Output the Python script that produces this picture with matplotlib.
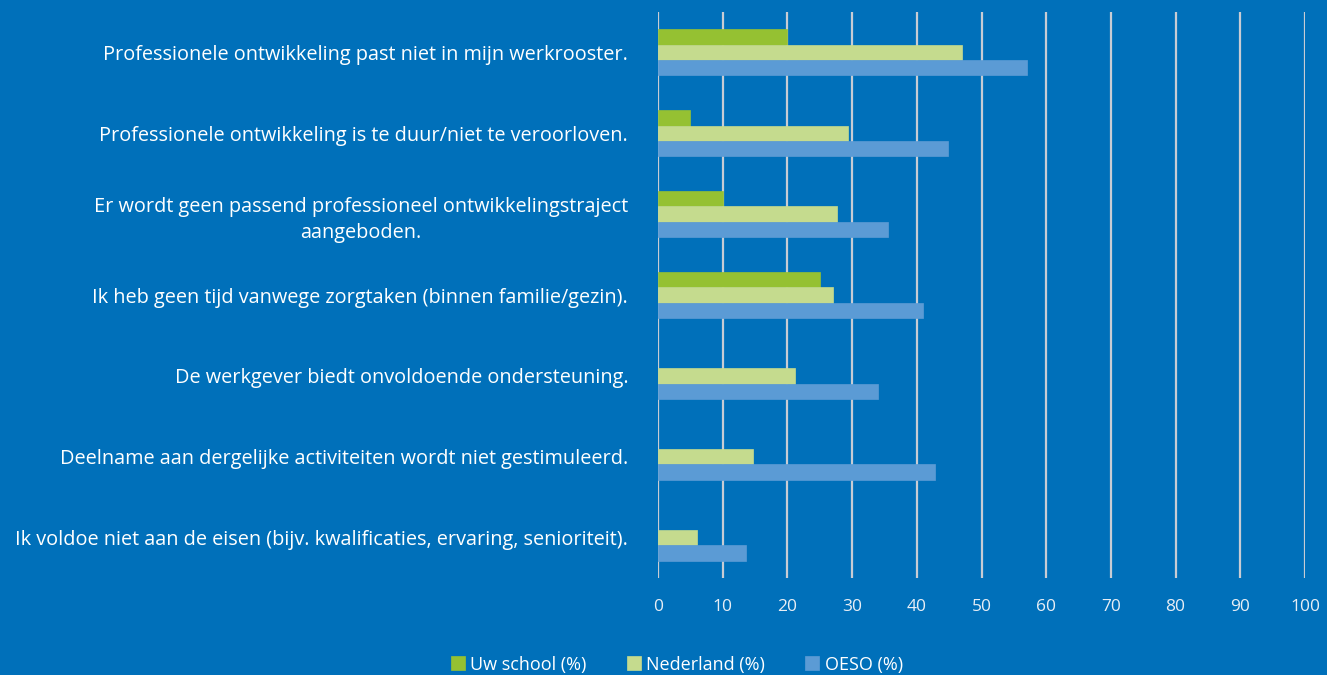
import matplotlib
matplotlib.use("Agg")
import matplotlib.pyplot as plt
import numpy as np

categories = [
    "Professionele ontwikkeling past niet in mijn werkrooster.",
    "Professionele ontwikkeling is te duur/niet te veroorloven.",
    "Er wordt geen passend professioneel ontwikkelingstraject\naangeboden.",
    "Ik heb geen tijd vanwege zorgtaken (binnen familie/gezin).",
    "De werkgever biedt onvoldoende ondersteuning.",
    "Deelname aan dergelijke activiteiten wordt niet gestimuleerd.",
    "Ik voldoe niet aan de eisen (bijv. kwalificaties, ervaring, senioriteit).",
]
uw_school = [20, 5, 10, 25, np.nan, np.nan, np.nan]
nederland = [47, 29.4, 27.7, 27, 21.2, 14.7, 6]
oeso = [57, 44.8, 35.5, 41, 34, 42.8, 13.6]
series_names = ["Uw school (%)", "Nederland (%)", "OESO (%)"]
xticks = list(range(0, 101, 10))

bg = "#0070BA"
colors = ["#95C132", "#C5DB8E", "#5B9BD5"]

plt.rcParams['font.family'] = ['Open Sans', 'DejaVu Sans']

fig = plt.figure(figsize=(13.27, 6.75), dpi=100, facecolor=bg)
ax = fig.add_axes([658/1327, 1 - 578/675, (1305-658)/1327, (578-12)/675])
ax.set_facecolor(bg)

y = np.arange(len(categories))
h = 0.19
for i, (vals, c, name) in enumerate(zip([uw_school, nederland, oeso], colors, series_names)):
    ax.barh(y + (i - 1) * h, vals, height=h, color=c, edgecolor=c, linewidth=0.5,
            label=name, zorder=3)

ax.set_xlim(0, 100)
ax.set_ylim(len(categories) - 0.5, -0.5)
ax.set_xticks(xticks)
ax.set_xticklabels([str(t) for t in xticks], color="#E8EEF5", fontsize=12.5)
ax.set_yticks(y)
ax.set_yticklabels(categories, color="white", fontsize=14.3, multialignment='center',
                   linespacing=1.45)
ax.tick_params(axis='both', length=0)
ax.tick_params(axis='y', pad=21.5)
ax.tick_params(axis='x', pad=15)
ax.grid(axis='x', color="#C8CCD4", linewidth=1.6, zorder=0)
for s in ax.spines.values():
    s.set_visible(False)

leg = fig.legend(loc='lower center', bbox_to_anchor=(0.51, -0.022), ncol=3, frameon=False,
                 fontsize=13, labelcolor="white", handlelength=0.8, handleheight=0.8,
                 handletextpad=0.3, columnspacing=2.2)

fig.savefig("out.png", dpi=100, facecolor=bg)
